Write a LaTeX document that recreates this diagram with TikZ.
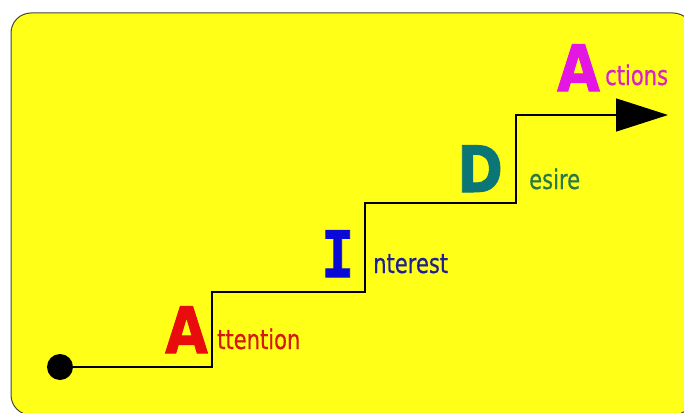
\documentclass[tikz,border=0pt]{standalone}
\usepackage{fontspec}
\setmainfont{DejaVu Sans}
\newfontfamily\heavyfont{DejaVu Sans}[BoldFeatures={FakeBold=1.6}]
\newfontfamily\slabfont{DejaVu Sans Mono}[BoldFeatures={FakeBold=1.6}]
\newfontfamily\wordfont{DejaVu Sans}[FakeBold=0.5]
\usetikzlibrary{arrows.meta}

\definecolor{bgyellow}{RGB}{255,255,24}
\definecolor{framegray}{RGB}{70,70,60}
\definecolor{attred}{RGB}{232,12,12}
\definecolor{attredtxt}{RGB}{212,24,12}
\definecolor{intblue}{RGB}{10,10,215}
\definecolor{intbluetxt}{RGB}{30,30,150}
\definecolor{desteal}{RGB}{12,118,118}
\definecolor{desgreen}{RGB}{40,120,72}
\definecolor{actmag}{RGB}{228,22,228}
\definecolor{actmagtxt}{RGB}{214,34,200}

\begin{document}
\begin{tikzpicture}[x=1pt, y=-1pt,
  initial/.style={anchor=base west, inner sep=0pt, font=\fontsize{64}{64}\selectfont\heavyfont\bfseries},
  rest/.style={anchor=base west, inner sep=0pt, font=\fontsize{27}{27}\selectfont\wordfont},
  stair/.style={line width=1.5pt, black}]
  \useasboundingbox (0,0) rectangle (684,412);
  \fill[white] (0,0) rectangle (684,412);
  \clip (0,0) rectangle (684,412);
  \draw[framegray, fill=bgyellow, line width=1pt, rounded corners=20pt] (11,13) rectangle (693,415);

  % the staircase
  \node[circle, fill=black, inner sep=0pt, minimum size=26pt] (start) at (60,367) {};
  \coordinate (s1) at (212,292);
  \coordinate (s2) at (365,203);
  \coordinate (s3) at (516,115);
  \coordinate (goal) at (668,115);
  \draw[stair, -{Triangle[length=52pt, width=33pt]}] (start) -| (s1) -| (s2) -| (s3) -- (goal);

  % the four steps
  \node[initial, attred] (a1) at (165,353) {\scalebox{0.86}[1]{A}};
  \node[rest, attredtxt] (t1) at (217,349) {\scalebox{0.78}[1]{ttention}};
  \node[initial, intblue] (a2) at (321,277) {\scalebox{0.86}[1]{\slabfont\bfseries I}};
  \node[rest, intbluetxt] (t2) at (373,273) {\scalebox{0.78}[1]{nterest}};
  \node[initial, desteal] (a3) at (457,192) {\scalebox{0.86}[1]{D}};
  \node[rest, desgreen] (t3) at (529,189) {\scalebox{0.78}[1]{esire}};
  \node[initial, actmag] (a4) at (557,91) {\scalebox{0.86}[1]{A}};
  \node[rest, actmagtxt] (t4) at (605,85) {\scalebox{0.78}[1]{ctions}};
\end{tikzpicture}
\end{document}
